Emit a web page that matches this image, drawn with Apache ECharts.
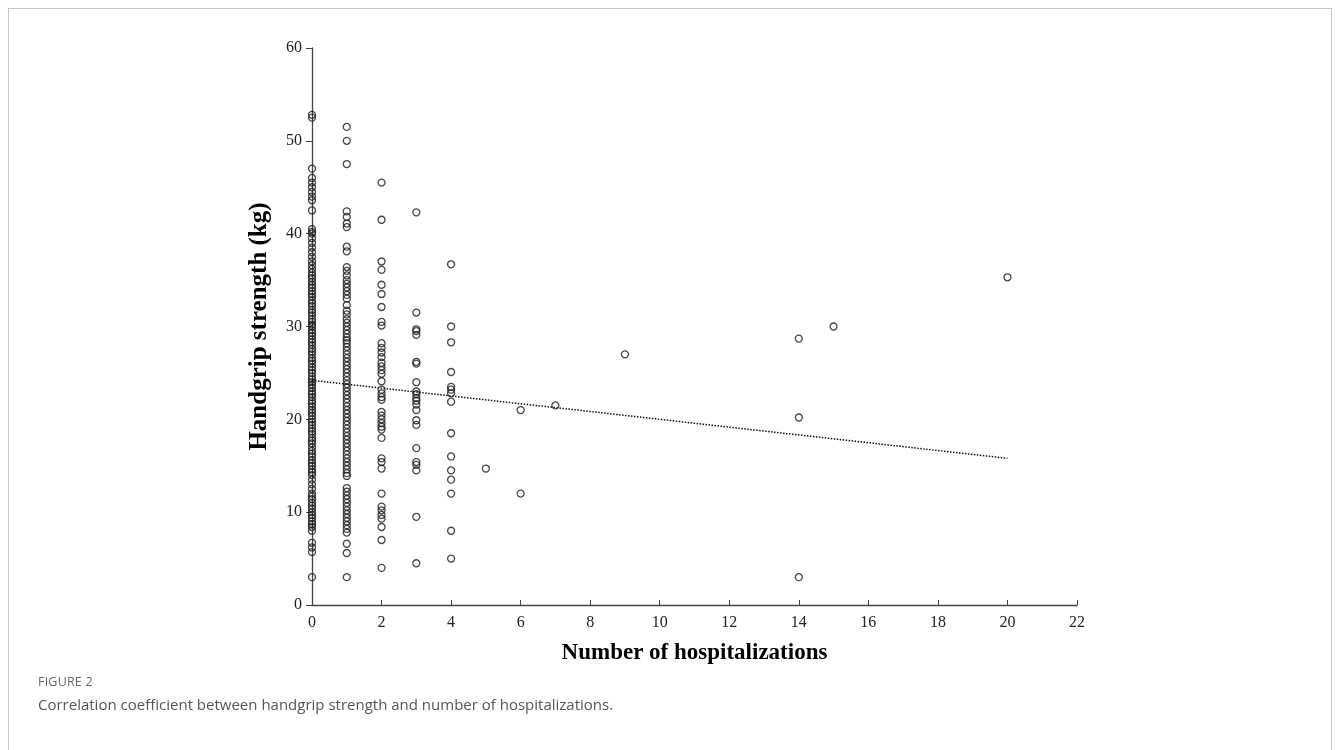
<!DOCTYPE html>
<html>
<head>
<meta charset="utf-8">
<script src="https://cdn.jsdelivr.net/npm/echarts@6/dist/echarts.min.js"></script>
<style>
  html, body { margin: 0; padding: 0; background: #fff; width: 1335px; height: 750px; overflow: hidden; }
  #frame { position: absolute; left: 8px; top: 8px; width: 1322px; height: 760px; border: 1px solid #c8c8c8; border-bottom: none; }
  #chart { position: absolute; left: 0; top: 0; width: 1335px; height: 750px; }
  #fig { position: absolute; left: 38px; top: 673px; font-family: "Open Sans", "Noto Sans", sans-serif; font-size: 12.5px; color: #666; letter-spacing: 0.2px; }
  #cap { position: absolute; left: 38px; top: 694px; font-family: "Open Sans", "Noto Sans", sans-serif; font-size: 15px; color: #555; }
</style>
</head>
<body>
<div id="frame"></div>
<div id="chart"></div>
<div id="fig">FIGURE 2</div>
<div id="cap">Correlation coefficient between handgrip strength and number of hospitalizations.</div>
<script>
// Handgrip strength (kg) per number of hospitalizations
const hosp0 = [52.8, 52.5, 47.0, 46.0, 45.5, 45.0, 44.5, 44.0, 43.6, 42.5, 40.5, 40.2, 40.0, 39.5, 39.0, 38.5, 38.0, 37.5, 37.0, 36.6, 36.2, 35.8, 35.5, 35.2, 34.8, 34.5, 34.2, 33.8, 33.5, 33.2, 32.8, 32.5, 32.2, 31.8, 31.5, 31.2, 30.8, 30.5, 30.2, 30.0, 29.6, 29.3, 29.0, 28.6, 28.3, 28.0, 27.6, 27.3, 27.0, 26.6, 26.3, 26.0, 25.6, 25.3, 25.0, 24.6, 24.3, 24.0, 23.7, 23.4, 23.0, 22.7, 22.4, 22.0, 21.7, 21.4, 21.0, 20.7, 20.4, 20.0, 19.7, 19.4, 19.0, 18.7, 18.4, 18.0, 17.7, 17.4, 17.0, 16.6, 16.3, 16.0, 15.6, 15.3, 15.0, 14.6, 14.3, 14.0, 13.5, 13.0, 12.5, 12.0, 11.7, 11.4, 11.0, 10.7, 10.4, 10.0, 9.7, 9.4, 9.0, 8.7, 8.4, 8.0, 6.7, 6.2, 5.7, 3.0];
const hosp1 = [51.5, 50.0, 47.5, 42.4, 41.8, 41.1, 40.7, 38.6, 38.1, 36.4, 36.0, 35.5, 35.0, 34.6, 34.2, 33.8, 33.4, 33.0, 32.3, 31.7, 31.3, 30.8, 30.4, 30.0, 29.6, 29.2, 28.8, 28.5, 28.2, 27.8, 27.4, 27.0, 26.6, 26.2, 25.8, 25.4, 25.0, 24.6, 24.2, 23.8, 23.4, 23.0, 22.6, 22.2, 21.8, 21.4, 21.0, 20.6, 20.2, 19.8, 19.4, 19.0, 18.6, 18.2, 17.8, 17.4, 17.0, 16.6, 16.2, 15.8, 15.4, 15.0, 14.6, 14.2, 13.9, 12.6, 12.2, 11.8, 11.4, 11.0, 10.6, 10.2, 9.8, 9.4, 9.0, 8.6, 8.2, 7.8, 6.6, 5.6, 3.0];
const hosp2 = [45.5, 41.5, 37.0, 36.1, 34.5, 33.5, 32.1, 30.5, 30.1, 28.2, 27.7, 27.2, 26.7, 26.1, 25.7, 25.3, 24.9, 24.1, 23.2, 22.8, 22.4, 22.1, 20.8, 20.4, 20.0, 19.6, 19.2, 18.9, 18.0, 15.8, 15.4, 14.7, 12.0, 10.6, 10.2, 9.7, 9.3, 8.4, 7.0, 4.0];
const hosp3 = [42.3, 31.5, 29.7, 29.5, 29.1, 26.2, 26.0, 24.0, 23.0, 22.7, 22.3, 22.0, 21.6, 21.0, 19.9, 19.4, 16.9, 15.4, 15.1, 14.5, 9.5, 4.5];
const hosp4 = [36.7, 30.0, 28.3, 25.1, 23.5, 23.2, 22.8, 21.9, 18.5, 16.0, 14.5, 13.5, 12.0, 8.0, 5.0];
const hosp5 = [14.7];
const hosp6 = [21.0, 12.0];
const hosp7 = [21.5];
const hosp9 = [27.0];
const hosp14 = [28.7, 20.2, 3.0];
const hosp15 = [30.0];
const hosp20 = [35.3];
const groups = [[0, hosp0], [1, hosp1], [2, hosp2], [3, hosp3], [4, hosp4], [5, hosp5], [6, hosp6], [7, hosp7], [9, hosp9], [14, hosp14], [15, hosp15], [20, hosp20]];
// Linear trend line endpoints
const trendX = [0, 20];
const trendY = [24.2, 15.8];
const xTicks = [0, 2, 4, 6, 8, 10, 12, 14, 16, 18, 20, 22];
const yTicks = [0, 10, 20, 30, 40, 50, 60];

const points = [];
groups.forEach(([x, ys]) => ys.forEach(y => points.push([x, y])));

const chart = echarts.init(document.getElementById('chart'), null, { renderer: 'canvas' });
const serif = '"Liberation Serif", "Times New Roman", serif';
chart.setOption({
  animation: false,
  grid: { left: 312, right: 258, top: 48, bottom: 145, containLabel: false, outerBoundsMode: 'none' },
  xAxis: {
    type: 'value', min: xTicks[0], max: xTicks[xTicks.length - 1], interval: 2,
    name: 'Number of hospitalizations', nameLocation: 'middle', nameGap: 37,
    nameTextStyle: { fontFamily: serif, fontWeight: 'bold', fontSize: 23, color: '#000' },
    axisLine: { lineStyle: { color: '#444', width: 1.3 } },
    axisTick: { inside: true, length: 5, lineStyle: { color: '#444' } },
    axisLabel: { fontFamily: serif, fontSize: 16, color: '#222', margin: 10 },
    splitLine: { show: false }
  },
  yAxis: {
    type: 'value', min: yTicks[0], max: yTicks[yTicks.length - 1], interval: 10,
    name: 'Handgrip strength (kg)', nameLocation: 'middle', nameGap: 40, nameRotate: 90,
    nameTextStyle: { fontFamily: serif, fontWeight: 'bold', fontSize: 25, color: '#000' },
    axisLine: { show: true, lineStyle: { color: '#444', width: 1.3 } },
    axisTick: { show: true, inside: false, length: 6, lineStyle: { color: '#444' } },
    axisLabel: { fontFamily: serif, fontSize: 16, color: '#222', margin: 10 },
    splitLine: { show: false }
  },
  series: [
    {
      type: 'scatter', data: points, symbol: 'circle', symbolSize: 7,
      itemStyle: { color: 'rgba(0,0,0,0)', borderColor: '#1a1a1a', borderWidth: 1.3 },
      z: 3
    },
    {
      type: 'line', data: trendX.map((x, i) => [x, trendY[i]]), symbol: 'none',
      lineStyle: { color: '#111', width: 1.5, type: [1.5, 1.5] }, z: 4
    }
  ]
});
</script>
</body>
</html>
